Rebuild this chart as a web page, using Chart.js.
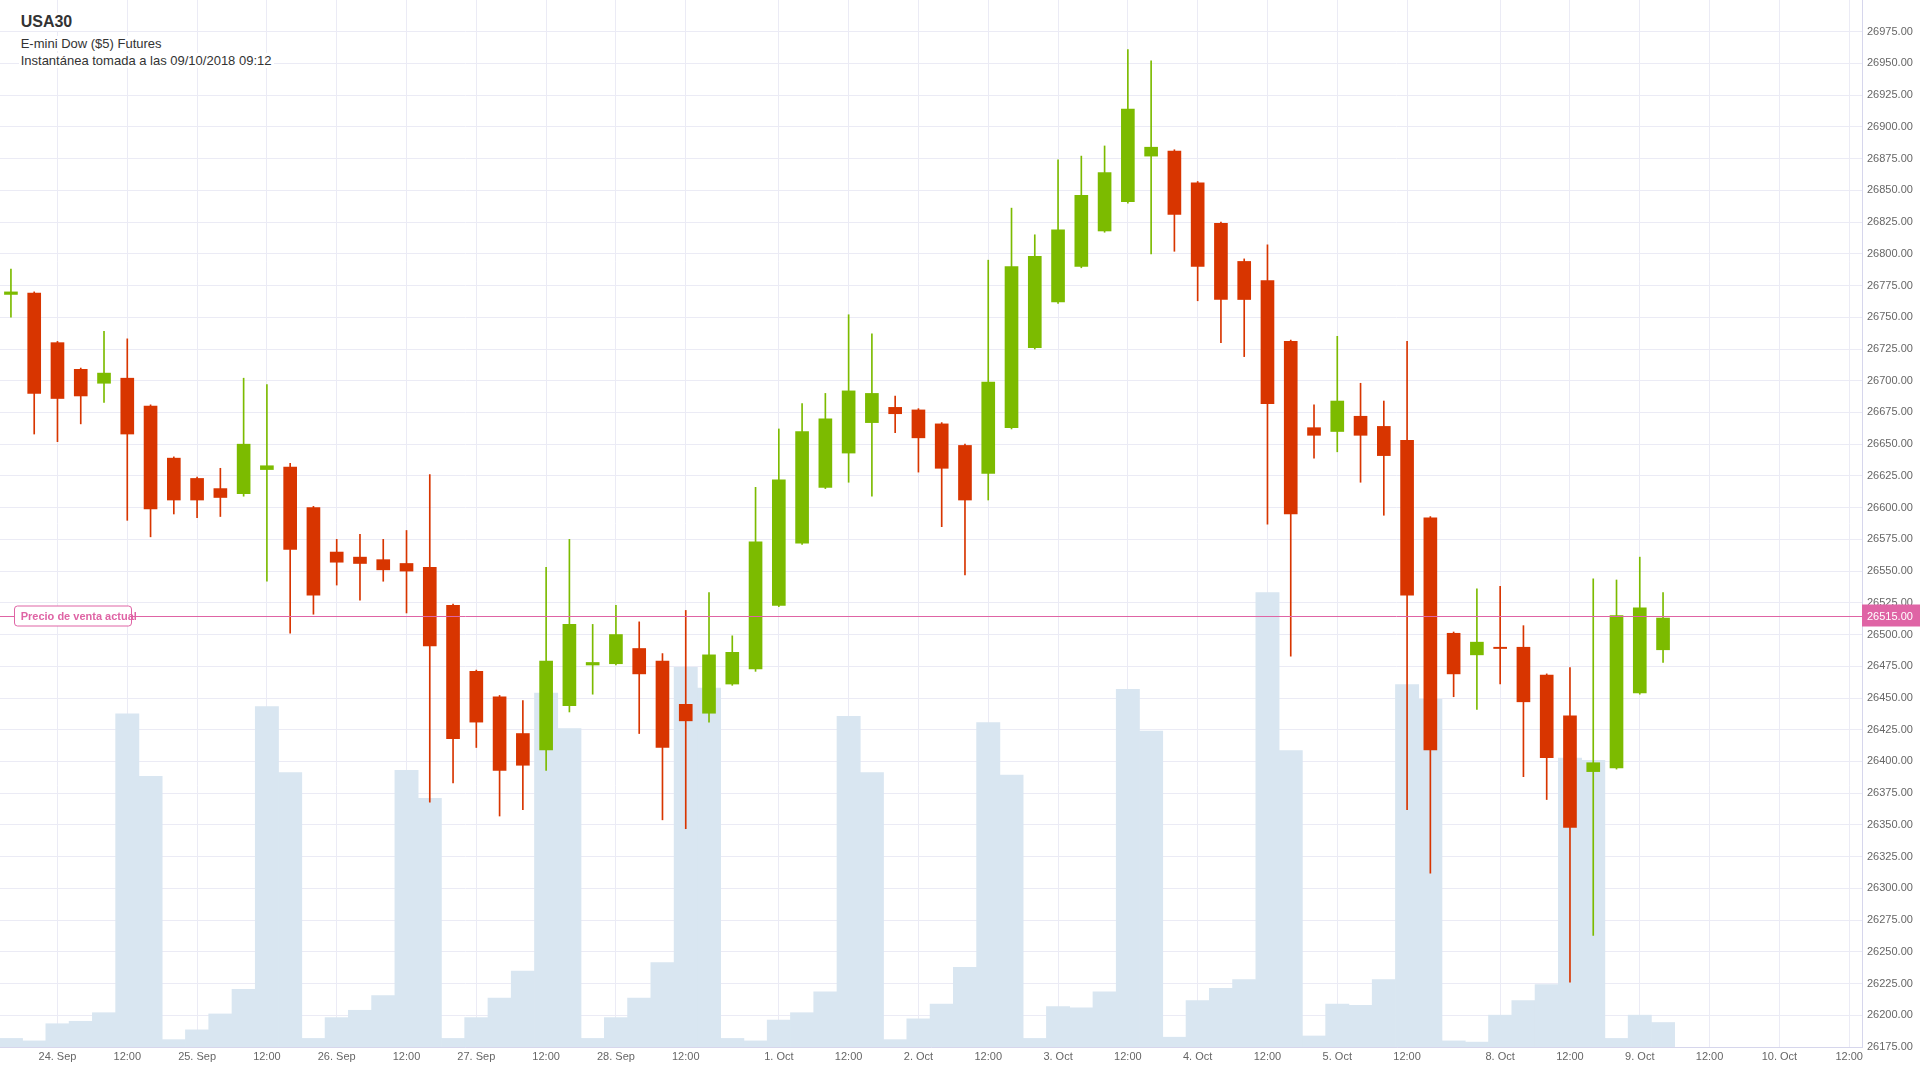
<!DOCTYPE html>
<html lang="es">
<head>
<meta charset="utf-8">
<title>USA30 - E-mini Dow ($5) Futures</title>
<script src="https://cdn.jsdelivr.net/npm/chart.js@4.4.0/dist/chart.umd.min.js"></script>
<style>
  html, body { margin: 0; padding: 0; background: #ffffff; overflow: hidden; }
  #wrap { position: relative; width: 1920px; height: 1080px; }
  canvas { display: block; }
  .lbl { position: absolute; background: #ffffff; padding: 0 2px; white-space: nowrap;
         font-family: "Liberation Sans", Arial, sans-serif; color: #333333; }
  #t1 { left: 18.7px; top: 13.4px; font-size: 16px; line-height: 18px; font-weight: bold; }
  #t2 { left: 18.7px; top: 35.9px; font-size: 13px; line-height: 15px; }
  #t3 { left: 18.7px; top: 53.2px; font-size: 13px; line-height: 15px; }
</style>
</head>
<body>
<div id="wrap">
  <canvas id="chart" width="1920" height="1080"></canvas>
  <div class="lbl" id="t1">USA30</div>
  <div class="lbl" id="t2">E-mini Dow ($5) Futures</div>
  <div class="lbl" id="t3">Instantánea tomada a las 09/10/2018 09:12</div>
</div>
<script>
// ---------- DATA (4-hour candles, UTC, ordinal time axis) ----------
const categories = [
  '21 Sep 20:00', '23 Sep 20:00',
  '24 Sep 00:00', '24 Sep 04:00', '24 Sep 08:00', '24 Sep 12:00', '24 Sep 16:00', '24 Sep 20:00',
  '25 Sep 00:00', '25 Sep 04:00', '25 Sep 08:00', '25 Sep 12:00', '25 Sep 16:00', '25 Sep 20:00',
  '26 Sep 00:00', '26 Sep 04:00', '26 Sep 08:00', '26 Sep 12:00', '26 Sep 16:00', '26 Sep 20:00',
  '27 Sep 00:00', '27 Sep 04:00', '27 Sep 08:00', '27 Sep 12:00', '27 Sep 16:00', '27 Sep 20:00',
  '28 Sep 00:00', '28 Sep 04:00', '28 Sep 08:00', '28 Sep 12:00', '28 Sep 16:00', '28 Sep 20:00',
  '30 Sep 20:00',
  '1 Oct 00:00', '1 Oct 04:00', '1 Oct 08:00', '1 Oct 12:00', '1 Oct 16:00', '1 Oct 20:00',
  '2 Oct 00:00', '2 Oct 04:00', '2 Oct 08:00', '2 Oct 12:00', '2 Oct 16:00', '2 Oct 20:00',
  '3 Oct 00:00', '3 Oct 04:00', '3 Oct 08:00', '3 Oct 12:00', '3 Oct 16:00', '3 Oct 20:00',
  '4 Oct 00:00', '4 Oct 04:00', '4 Oct 08:00', '4 Oct 12:00', '4 Oct 16:00', '4 Oct 20:00',
  '5 Oct 00:00', '5 Oct 04:00', '5 Oct 08:00', '5 Oct 12:00', '5 Oct 16:00', '5 Oct 20:00',
  '7 Oct 20:00',
  '8 Oct 00:00', '8 Oct 04:00', '8 Oct 08:00', '8 Oct 12:00', '8 Oct 16:00', '8 Oct 20:00',
  '9 Oct 00:00', '9 Oct 04:00', '9 Oct 08:00', '9 Oct 12:00', '9 Oct 16:00', '9 Oct 20:00',
  '10 Oct 00:00', '10 Oct 04:00', '10 Oct 08:00', '10 Oct 12:00'
];

const openP = [
  26768, 26769, 26730, 26709, 26698, 26702, 26680, 26639, 26623, 26615, 26611, 26630,
  26632, 26600, 26565, 26561, 26559, 26556, 26553, 26523, 26471, 26451, 26422, 26409,
  26444, 26476, 26477, 26489, 26479, 26445, 26438, 26461, 26473, 26523, 26572, 26616,
  26643, 26667, 26679, 26677, 26666, 26649, 26627, 26663, 26726, 26762, 26790, 26818,
  26841, 26877, 26881, 26856, 26824, 26794, 26779, 26731, 26663, 26660, 26672, 26664,
  26653, 26592, 26501, 26484, 26490, 26490, 26468, 26436, 26392, 26395, 26454, 26488
];
const highP = [
  26788, 26770, 26731, 26710, 26739, 26733, 26681, 26640, 26624, 26631, 26702, 26697,
  26635, 26601, 26575, 26579, 26575, 26582, 26626, 26524, 26472, 26452, 26448, 26553,
  26575, 26508, 26523, 26510, 26485, 26519, 26533, 26499, 26616, 26662, 26682, 26690,
  26752, 26737, 26688, 26678, 26667, 26650, 26795, 26836, 26815, 26874, 26877, 26885,
  26961, 26952, 26882, 26857, 26825, 26796, 26807, 26732, 26681, 26735, 26698, 26684,
  26731, 26593, 26502, 26536, 26538, 26507, 26469, 26474, 26544, 26543, 26561, 26533
];
const lowP = [
  26750, 26658, 26652, 26666, 26683, 26590, 26577, 26595, 26592, 26593, 26609, 26542,
  26501, 26516, 26539, 26527, 26542, 26517, 26368, 26383, 26411, 26357, 26362, 26393,
  26439, 26453, 26476, 26422, 26354, 26347, 26431, 26460, 26471, 26522, 26571, 26615,
  26620, 26609, 26659, 26628, 26585, 26547, 26606, 26662, 26725, 26761, 26789, 26817,
  26840, 26800, 26802, 26763, 26730, 26719, 26587, 26483, 26639, 26644, 26620, 26594,
  26362, 26312, 26451, 26441, 26461, 26388, 26370, 26226, 26263, 26394, 26453, 26478
];
const closeP = [
  26770, 26690, 26686, 26688, 26706, 26658, 26599, 26606, 26606, 26608, 26650, 26633,
  26567, 26531, 26557, 26556, 26551, 26550, 26491, 26418, 26431, 26393, 26397, 26479,
  26508, 26478, 26500, 26469, 26411, 26432, 26484, 26486, 26573, 26622, 26660, 26670,
  26692, 26690, 26674, 26655, 26631, 26606, 26699, 26790, 26798, 26819, 26846, 26864,
  26914, 26884, 26831, 26790, 26764, 26764, 26682, 26595, 26657, 26684, 26657, 26641,
  26531, 26409, 26469, 26494, 26489, 26447, 26403, 26348, 26399, 26515, 26521, 26513
];
const volume = [
  700, 500, 1900, 2100, 2800, 27200, 22100, 600, 1400, 2700, 4700, 27800,
  22400, 700, 2400, 3000, 4200, 22600, 20300, 700, 2400, 4000, 6200, 28900,
  26000, 700, 2400, 4000, 6900, 31000, 29300, 700, 500, 2200, 2800, 4500,
  27000, 22400, 600, 2300, 3500, 6500, 26500, 22200, 700, 3300, 3200, 4500,
  29200, 25800, 800, 3800, 4800, 5500, 37100, 24200, 900, 3500, 3400, 5500,
  29600, 28400, 500, 400, 2600, 3800, 5100, 23600, 23400, 700, 2600, 2000
];
const currentPrice = 26515;
const currentPriceLabel = 'Precio de venta actual';

// ---------- STYLE ----------
const FONT = '"Liberation Sans", Arial, sans-serif';
const UP = '#7cbb00';
const DOWN = '#d83500';
const VOL = '#d9e6f1';
const GRID = '#ebebf5';
const AXIS = '#d6d6ec';
const PINK = '#df64a5';
const TICK = '#666666';

const candleColors = closeP.map((c, i) => (c >= openP[i] ? UP : DOWN));
const bodies = closeP.map((c, i) => ({ x: i, y: [openP[i], c] }));
const wicks = closeP.map((c, i) => ({ x: i, y: [lowP[i], highP[i]] }));
const vols = volume.map((v, i) => ({ x: i, y: v }));

const tickIdx = categories.map((c, i) => i).filter(i => /(00|12):00$/.test(categories[i]));
function tickLabel(v) {
  const c = categories[v];
  if (!c) return '';
  if (c.endsWith('12:00')) return '12:00';
  const [d, m] = c.split(' ');
  return d + '. ' + m;
}

const priceLinePlugin = {
  id: 'priceLine',
  afterDraw(chart) {
    const { ctx, chartArea: a } = chart;
    const yScale = chart.scales.y;
    const py = Math.round(yScale.getPixelForValue(currentPrice)) + 0.5;
    ctx.save();
    ctx.strokeStyle = PINK;
    ctx.lineWidth = 1;
    ctx.beginPath();
    ctx.moveTo(a.left, py);
    ctx.lineTo(a.right, py);
    ctx.stroke();
    // left label box
    const bx = 14.5, by = py - 10.5, bw = 117, bh = 20, r = 3;
    ctx.beginPath();
    ctx.moveTo(bx + r, by);
    ctx.lineTo(bx + bw - r, by);
    ctx.quadraticCurveTo(bx + bw, by, bx + bw, by + r);
    ctx.lineTo(bx + bw, by + bh - r);
    ctx.quadraticCurveTo(bx + bw, by + bh, bx + bw - r, by + bh);
    ctx.lineTo(bx + r, by + bh);
    ctx.quadraticCurveTo(bx, by + bh, bx, by + bh - r);
    ctx.lineTo(bx, by + r);
    ctx.quadraticCurveTo(bx, by, bx + r, by);
    ctx.closePath();
    ctx.fillStyle = '#ffffff';
    ctx.fill();
    ctx.stroke();
    ctx.fillStyle = PINK;
    ctx.font = 'bold 11px ' + FONT;
    ctx.textBaseline = 'middle';
    ctx.textAlign = 'left';
    ctx.fillText(currentPriceLabel, 20.7, py);
    // right price box
    ctx.fillStyle = PINK;
    ctx.fillRect(a.right, py - 12, chart.width - a.right, 22);
    ctx.fillStyle = '#ffffff';
    ctx.font = '11px ' + FONT;
    ctx.fillText(currentPrice.toFixed(2), a.right + 5, py);
    ctx.restore();
  }
};

new Chart(document.getElementById('chart').getContext('2d'), {
  type: 'bar',
  data: {
    datasets: [
      { label: 'Cuerpo', data: bodies, backgroundColor: candleColors, borderWidth: 0,
        barThickness: 13, minBarLength: 1, grouped: false, order: 1 },
      { label: 'Mecha', data: wicks, backgroundColor: candleColors, borderWidth: 0,
        barThickness: 1, grouped: false, order: 2 },
      { label: 'Volumen', data: vols, yAxisID: 'yVol', backgroundColor: VOL, borderWidth: 0,
        barPercentage: 1, categoryPercentage: 1, grouped: false, order: 3 }
    ]
  },
  options: {
    responsive: false,
    animation: false,
    devicePixelRatio: 1,
    layout: { padding: 0 },
    plugins: { legend: { display: false }, tooltip: { enabled: false }, title: { display: false } },
    scales: {
      x: {
        type: 'linear',
        min: -0.47,
        max: 79.55,
        offset: false,
        grid: { color: GRID, drawTicks: false, offset: false },
        border: { color: AXIS },
        ticks: { autoSkip: false, maxRotation: 0, minRotation: 0, padding: 3,
                 font: { family: FONT, size: 11 }, color: TICK,
                 callback: (v) => tickLabel(v) },
        afterBuildTicks: (s) => { s.ticks = tickIdx.map(v => ({ value: v })); },
        afterFit: (s) => { s.height = 33; s.paddingLeft = 0; s.paddingRight = 0; }
      },
      y: {
        position: 'right',
        min: 26175,
        max: 27000,
        grid: { color: GRID, drawTicks: false },
        border: { color: AXIS },
        ticks: { stepSize: 25, padding: 5, font: { family: FONT, size: 11 }, color: TICK,
                 callback: (v) => Number(v).toFixed(2) },
        afterBuildTicks: (s) => { s.ticks = s.ticks.filter(t => t.value < 27000); },
        afterFit: (s) => { s.width = 58; s.paddingTop = 0; s.paddingBottom = 0; }
      },
      yVol: { display: false, min: 0, max: 85500, position: 'right' }
    }
  },
  plugins: [priceLinePlugin]
});
</script>
</body>
</html>
